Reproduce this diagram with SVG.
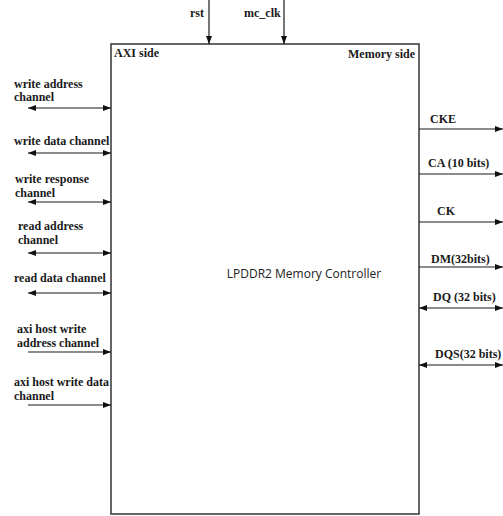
<svg xmlns="http://www.w3.org/2000/svg" width="503" height="516" viewBox="0 0 503 516">
<style>
.l{font-family:"Liberation Serif","Times New Roman",serif;font-weight:bold;font-size:12px;fill:#1a1a1a}
.c{font-family:"Open Sans","Liberation Sans",sans-serif;font-size:12px;fill:#222}
.w{stroke:#1a1a1a;stroke-width:1.2;fill:none}
</style>
<defs>
<marker id="ah" viewBox="0 0 8 6" refX="8" refY="3" markerWidth="8" markerHeight="6" markerUnits="userSpaceOnUse" orient="auto-start-reverse"><path d="M0,0L8,3L0,6Z" fill="#111"/></marker>
</defs>
<rect width="503" height="516" fill="#fff"/>
<g id="controller">
<rect x="111" y="44" width="308" height="470" fill="#fff" stroke="#333" stroke-width="1.5"/>
<text class="l" x="114" y="57">AXI side</text>
<text class="l" x="415" y="58" text-anchor="end">Memory side</text>
<text class="c" x="304" y="278" text-anchor="middle">LPDDR2 Memory Controller</text>
</g>
<g id="labels">
<text class="l" x="190" y="17">rst</text>
<text class="l" x="244" y="17">mc_clk</text>
<text class="l" x="14" y="88">write address</text>
<text class="l" x="14" y="101">channel</text>
<text class="l" x="14" y="145">write data channel</text>
<text class="l" x="15" y="183">write response</text>
<text class="l" x="15" y="197">channel</text>
<text class="l" x="18" y="230">read address</text>
<text class="l" x="18" y="244">channel</text>
<text class="l" x="14" y="282">read data channel</text>
<text class="l" x="17" y="333">axi host write</text>
<text class="l" x="17" y="347">address channel</text>
<text class="l" x="14" y="386">axi host write data</text>
<text class="l" x="14" y="400">channel</text>
<text class="l" x="430" y="123">CKE</text>
<text class="l" x="428" y="167">CA (10 bits)</text>
<text class="l" x="437" y="215">CK</text>
<text class="l" x="431" y="263">DM(32bits)</text>
<text class="l" x="433" y="301">DQ (32 bits)</text>
<text class="l" x="435" y="358">DQS(32 bits)</text>
</g>
<g id="connectors">
<line class="w" x1="209" y1="0" x2="209" y2="44" marker-end="url(#ah)"/>
<line class="w" x1="284" y1="0" x2="284" y2="44" marker-end="url(#ah)"/>
<line class="w" x1="28" y1="108" x2="111" y2="108" marker-start="url(#ah)" marker-end="url(#ah)"/>
<line class="w" x1="28" y1="153" x2="111" y2="153" marker-start="url(#ah)" marker-end="url(#ah)"/>
<line class="w" x1="28" y1="202" x2="111" y2="202" marker-start="url(#ah)" marker-end="url(#ah)"/>
<line class="w" x1="28" y1="253" x2="111" y2="253" marker-start="url(#ah)" marker-end="url(#ah)"/>
<line class="w" x1="28" y1="293" x2="111" y2="293" marker-start="url(#ah)" marker-end="url(#ah)"/>
<line class="w" x1="28" y1="352" x2="111" y2="352" marker-end="url(#ah)"/>
<line class="w" x1="28" y1="405" x2="111" y2="405" marker-end="url(#ah)"/>
<line class="w" x1="419" y1="129" x2="503" y2="129" marker-end="url(#ah)"/>
<line class="w" x1="419" y1="174" x2="503" y2="174" marker-end="url(#ah)"/>
<line class="w" x1="419" y1="222" x2="503" y2="222" marker-end="url(#ah)"/>
<line class="w" x1="419" y1="267" x2="503" y2="267" marker-end="url(#ah)"/>
<line class="w" x1="419" y1="308" x2="503" y2="308" marker-start="url(#ah)" marker-end="url(#ah)"/>
<line class="w" x1="419" y1="365" x2="503" y2="365" marker-start="url(#ah)" marker-end="url(#ah)"/>
</g>
</svg>
